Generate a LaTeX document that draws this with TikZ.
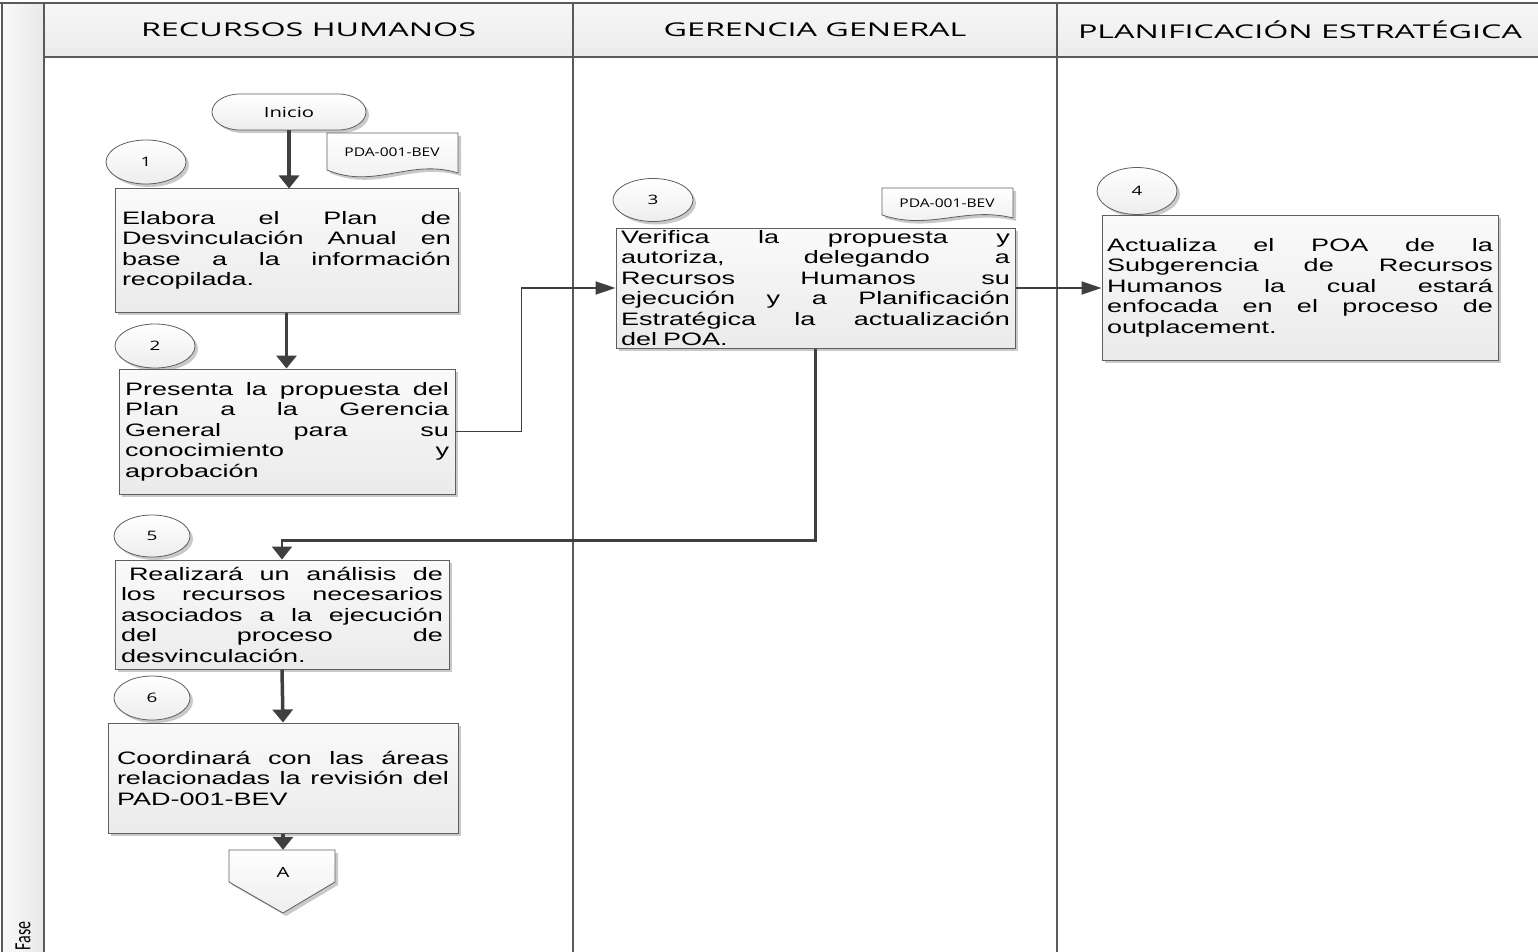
\documentclass[tikz,border=0pt]{standalone}
\usepackage{fontspec}
\setmainfont{Liberation Sans}
\newfontfamily\bodyfont[FakeStretch=1.5]{Liberation Sans}
\newfontfamily\headfont[FakeStretch=1.7]{Open Sans}
\newfontfamily\smallfont[FakeStretch=1.45]{Open Sans}
\newfontfamily\docfont[FakeStretch=1.3]{Open Sans}
\newfontfamily\fasefont{Carlito}
\usetikzlibrary{arrows.meta,shapes.geometric,shadows}
\setlength{\parindent}{0pt}

\definecolor{lanegray}{HTML}{5A5A5A}
\definecolor{boxborder}{HTML}{5F5F5F}
\definecolor{arrowgray}{HTML}{3F3F3F}

% one justified line of a fixed-width paragraph (font glue, so spaces can stretch)
\newcommand\jl[1]{{\spaceskip=0pt\xspaceskip=0pt\makebox[\hsize][s]{#1}}\\}

\tikzset{
  lane/.style={draw=lanegray, line width=2pt},
  softshadow/.style={drop shadow={shadow xshift=3pt, shadow yshift=-3pt, fill=black!30, opacity=0.7}},
  box/.style={rectangle, draw=boxborder, line width=1pt, top color=black!2, bottom color=black!8,
    softshadow, inner sep=0pt, align=left, font=\bodyfont\fontsize{18}{20.5}\selectfont},
  num/.style={ellipse, draw=boxborder, line width=0.8pt, top color=white, bottom color=black!7,
    softshadow, inner sep=0pt, font=\smallfont\fontsize{13}{15}\selectfont},
  shapeline/.style={draw=boxborder, line width=0.8pt, top color=white, bottom color=black!7, softshadow},
  headtext/.style={font=\headfont\fontsize{19}{22}\selectfont, inner sep=0pt},
  flow/.style={draw=arrowgray, line width=3.5pt, -{Triangle[width=20pt,length=13pt]}},
  link/.style={draw=arrowgray, line width=1.8pt, -{Triangle[width=13pt,length=20pt]}},
  turn/.style={draw=arrowgray, line width=2.4pt, -{Triangle[width=20pt,length=13pt]}},
}

\begin{document}
\begin{tikzpicture}[x=1pt,y=-1pt]
\useasboundingbox (0,0) rectangle (1538,952);

% swimlane frame
\fill[left color=black!2, right color=black!9] (2,3) rectangle (44,952);
\fill[top color=black!3, bottom color=black!8] (44,3) rectangle (1538,57);
\draw[lane] (0,3) -- (1538,3);
\draw[lane] (2,3) -- (2,952);
\draw[lane] (44,3) -- (44,952);
\draw[lane] (44,57) -- (1538,57);
\draw[lane] (573,3) -- (573,952);
\draw[lane] (1057,3) -- (1057,952);

\node[headtext] (hrh) at (308.5,30) {RECURSOS HUMANOS};
\node[headtext] (hgg) at (815,30) {GERENCIA GENERAL};
\node[headtext] (hpe) at (1300,30) {PLANIFICACIÓN ESTRATÉGICA};
\node[font=\fasefont\fontsize{16}{18}\selectfont, rotate=90, inner sep=0pt] (fase) at (23,936)
  {\scalebox{1}[1.45]{Fase}};

% start terminal
\path[shapeline] (240,94) -- (338,94) arc[start angle=-90, end angle=90, x radius=28, y radius=18]
  -- (240,130) arc[start angle=90, end angle=270, x radius=28, y radius=18] -- cycle;
\node[minimum width=154pt, minimum height=36pt, inner sep=0pt,
  font=\smallfont\fontsize{14}{16}\selectfont] (inicio) at (289,112) {Inicio};

% document symbols
\path[shapeline] (327,133) -- (458,133) -- (458,173)
  .. controls (410,158) and (375,190) .. (327,170) -- cycle;
\node[font=\docfont\fontsize{12}{14}\selectfont, inner sep=0pt] (doc1) at (392,152) {PDA-001-BEV};
\path[shapeline] (882,188) -- (1013,188) -- (1013,218)
  .. controls (965,206) and (930,231) .. (882,215) -- cycle;
\node[font=\docfont\fontsize{12}{14}\selectfont, inner sep=0pt] (doc2) at (947,203) {PDA-001-BEV};

% step numbers
\node[num, minimum width=80pt, minimum height=44pt] (c1) at (146,162) {1};
\node[num, minimum width=80pt, minimum height=44pt] (c2) at (155,346) {2};
\node[num, minimum width=80pt, minimum height=43pt] (c3) at (653,200) {3};
\node[num, minimum width=80pt, minimum height=47pt] (c4) at (1137,191) {4};
\node[num, minimum width=76pt, minimum height=42pt] (c5) at (152,536) {5};
\node[num, minimum width=76pt, minimum height=44pt] (c6) at (152,698) {6};

% activities
\node[box, minimum width=343pt, minimum height=123pt, text width=329pt] (box1) at (286.5,250.5)
  {\jl{Elabora el Plan de}\jl{Desvinculación Anual en}\jl{base a la información}recopilada.};
\node[box, minimum width=336pt, minimum height=125pt, text width=324pt] (box2) at (287,431.5)
  {\jl{Presenta la propuesta del}\jl{Plan a la Gerencia}\jl{General para su}\jl{conocimiento y}aprobación};
\node[box, minimum width=399pt, minimum height=120pt, text width=389pt] (box3) at (815.5,288)
  {\jl{Verifica la propuesta y}\jl{autoriza, delegando a}\jl{Recursos Humanos su}\jl{ejecución y a Planificación}\jl{Estratégica la actualización}del POA.};
\node[box, minimum width=396pt, minimum height=145pt, text width=386pt] (box4) at (1300,287.5)
  {\jl{Actualiza el POA de la}\jl{Subgerencia de Recursos}\jl{Humanos la cual estará}\jl{enfocada en el proceso de}outplacement.};
\node[box, minimum width=334pt, minimum height=109pt, text width=322pt] (box5) at (282,614.5)
  {\jl{\hspace{8pt}Realizará un análisis de}\jl{los recursos necesarios}\jl{asociados a la ejecución}\jl{del proceso de}desvinculación.};
\node[box, minimum width=350pt, minimum height=110pt, text width=332pt] (box6) at (283,778)
  {\jl{Coordinará con las áreas}\jl{relacionadas la revisión del}PAD-001-BEV};

% off-page connector
\path[shapeline] (229,850) -- (335,850) -- (335,882) -- (283,913) -- (229,882) -- cycle;
\node[minimum width=106pt, minimum height=44pt, inner sep=0pt,
  font=\smallfont\fontsize{14}{16}\selectfont] (offA) at (283,872) {A};

% connectors
\draw[flow] (inicio.south) -- (inicio.south |- box1.north);
\draw[flow] (box1.south) -- (box1.south |- box2.north);
\draw[link] (box2.east) -- ++(66,0) |- (box3.west);
\draw[link] (box3.east) -- (box3.east -| box4.west);
\draw[turn] (box3.south) -- ++(0,192) -| (box5.north);
\draw[flow] (box5.south) -- (box6.north);
\draw[flow] (box6.south) -- (offA.north);
\end{tikzpicture}
\end{document}
